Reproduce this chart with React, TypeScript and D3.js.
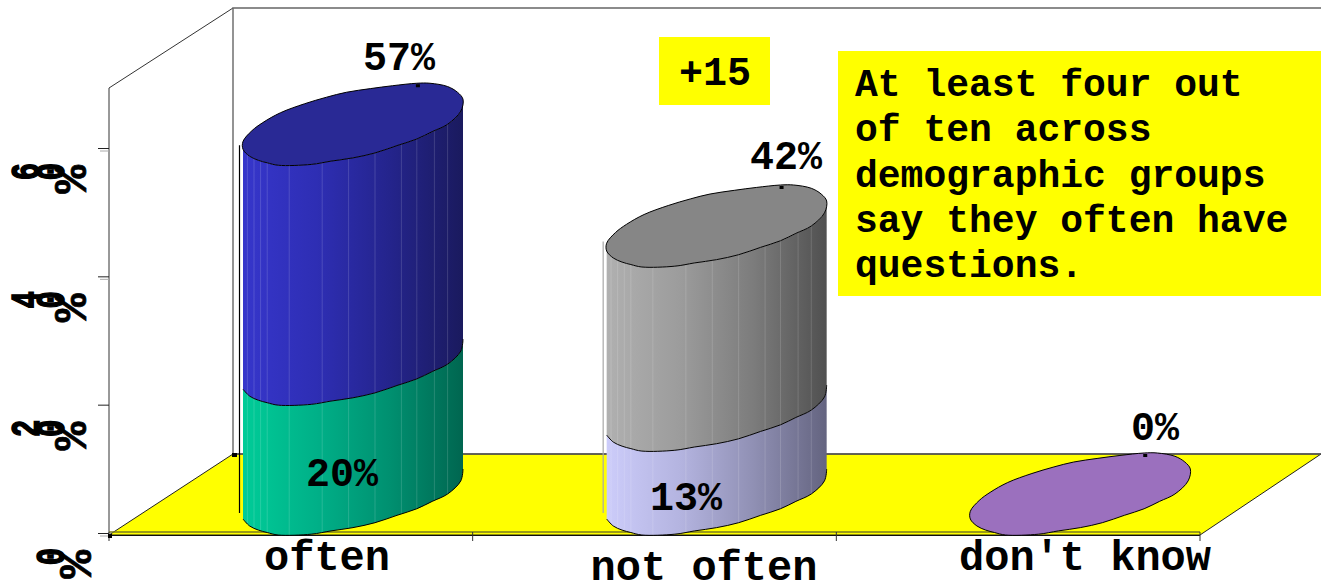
import React, { useEffect, useRef } from 'react';
import * as d3 from 'd3';

const categories = ['often', 'not often', "don't know"];
const upperValues = [57, 42, 0];
const lowerValues = [20, 13, 0];
const yTicks = [0, 20, 40, 60];
const calloutLines = [
  'At least four out',
  'of ten across',
  'demographic groups',
  'say they often have',
  'questions.',
];

// Outline of a column cap, as fractions of the cap width and height
const capBack: [number, number][] = [
  [0, -0.29], [0.04, -0.42], [0.09, -0.52], [0.17, -0.64], [0.28, -0.75],
  [0.38, -0.83], [0.47, -0.89], [0.58, -0.935], [0.68, -0.97], [0.79, -1],
  [0.85, -1], [0.93, -0.96], [0.975, -0.89], [1, -0.805],
];
const capFront: [number, number][] = [
  [1, -0.805], [0.99, -0.66], [0.93, -0.5], [0.86, -0.41], [0.79, -0.32],
  [0.7, -0.24], [0.6, -0.15], [0.5, -0.09], [0.4, -0.05], [0.31, -0.01],
  [0.16, 0], [0.11, -0.03], [0.07, -0.06], [0.03, -0.11], [0, -0.195],
];
// Light facet lines on the column sides
const facets = [0.02, 0.05, 0.08, 0.11, 0.21, 0.36, 0.48, 0.6, 0.72, 0.79, 0.87, 0.93];

const upperRamps = [
  ['#3636cb', '#2e2eb4', '#24248c', '#1a1a5e'],
  ['#b0b0b0', '#9c9c9c', '#7c7c7c', '#505050'],
];
const lowerRamps = [
  ['#00cc98', '#00b088', '#009070', '#006650'],
  ['#ccccfa', '#b4b4e0', '#9090b4', '#646480'],
];
const capColors = ['#292995', '#868686', '#9b70be'];
const dropColors = ['#000000', '#a8a8a8'];

const MONO = '"Liberation Mono", monospace';

const App: React.FC = () => {
  const chartRef = useRef<SVGSVGElement>(null);

  useEffect(() => {
    if (!chartRef.current) return;
    d3.select(chartRef.current).selectAll('*').remove();
    const svg = d3.select(chartRef.current);
    const defs = svg.append('defs');

    // Scales
    const x = d3.scaleBand().domain(categories).range([109, 1200]);
    const y = d3.scaleLinear().domain([0, 60]).range([533, 148]);
    const colWidth = 220;
    const capHeight = 82;
    const colLeft = (c: string) => (x(c) as number) + 134;
    // The 3D projection is not quite linear, small pixel corrections per value
    const nudge: Record<number, number> = { 57: -2, 42: 3.5, 20: 0.5, 13: 1.5, 0: 2 };

    // Back walls
    const wall = svg.append('g').attr('fill', 'none');
    wall.append('path').attr('d', 'M109,533V88L233,8').attr('stroke', '#333');
    wall.append('path').attr('d', 'M233,455V8H1321').attr('stroke', '#666').attr('stroke-width', 1.4);

    // Floor
    svg
      .append('path')
      .attr('d', 'M109,535L233,454H1321L1200,535Z')
      .attr('fill', '#ffff00')
      .attr('stroke', '#222')
      .attr('stroke-width', 1);
    svg.append('line').attr('x1', 233).attr('x2', 1321).attr('y1', 454).attr('y2', 454)
      .attr('stroke', '#555').attr('stroke-width', 1.5);
    svg.append('rect').attr('x', 232).attr('y', 453).attr('width', 5).attr('height', 4).attr('fill', '#000');

    // Y axis ticks, with their grey shadow just below
    const yAxis = svg
      .append('g')
      .attr('transform', 'translate(109,0)')
      .call(d3.axisLeft(y).tickValues(yTicks).tickSize(11).tickSizeOuter(0).tickFormat(() => ''));
    yAxis.select('.domain').remove();
    yAxis.selectAll('line').attr('stroke', '#222');
    svg
      .selectAll('.tick-shadow')
      .data(yTicks.filter((t) => t !== 20))
      .enter()
      .append('line')
      .attr('x1', 100)
      .attr('x2', 109)
      .attr('y1', (d) => y(d) + 3)
      .attr('y2', (d) => y(d) + 3)
      .attr('stroke', '#aaa');

    // Y labels: each glyph is turned on its own and they run into each other.
    // Digits come out squashed and heavy, the % sign stretched
    yTicks.forEach((t) => {
      const chars = `${t}%`.split('');
      chars.forEach((ch, i) => {
        const fromEnd = chars.length - 1 - i;
        const isPct = ch === '%';
        const cx = isPct ? (t === 0 ? 75 : 70) : 50 - (fromEnd - 1) * 25;
        svg
          .append('text')
          .text(ch)
          .attr('transform', `translate(${cx},${y(t) + (isPct ? 17 : 15)}) rotate(-90) scale(${isPct ? 1.2 : 0.72},${isPct ? 1.15 : 1})`)
          .attr('dy', '0.35em')
          .attr('text-anchor', 'end')
          .attr('stroke', '#000')
          .attr('stroke-width', isPct ? 0.6 : 1.6)
          .style('font-family', MONO)
          .style('font-weight', 700)
          .style('font-size', '40px');
      });
    });

    // Baseline of the front edge and category ticks
    svg.append('line').attr('x1', 109).attr('x2', 1200).attr('y1', 532).attr('y2', 532)
      .attr('stroke', '#7a7a20').attr('stroke-width', 1.5);
    svg.append('line').attr('x1', 109).attr('x2', 1200).attr('y1', 535.5).attr('y2', 535.5)
      .attr('stroke', '#111');
    svg
      .selectAll('.cat-tick')
      .data([109, ...categories.map((c) => (x(c) as number) + x.bandwidth())])
      .enter()
      .append('line')
      .attr('x1', (d) => d)
      .attr('x2', (d) => d)
      .attr('y1', 532)
      .attr('y2', 541)
      .attr('stroke', '#333');
    svg.append('rect').attr('x', 108).attr('y', 534).attr('width', 4).attr('height', 4).attr('fill', '#000');

    const contour = (c: string, value: number, pts: [number, number][]) =>
      pts.map(([u, v]) => [
        colLeft(c) + u * colWidth,
        y(value) + (nudge[value] ?? 0) + v * capHeight,
      ] as [number, number]);
    const line = d3.line().curve(d3.curveCatmullRom);
    const closedLine = d3.line().curve(d3.curveCatmullRomClosed);

    // One piece of column side between two values
    const drawSide = (c: string, lo: number, hi: number, ramp: string[], id: string) => {
      const gradient = defs.append('linearGradient').attr('id', `grad-${id}`);
      ramp.forEach((color, i) => {
        gradient
          .append('stop')
          .attr('offset', i / (ramp.length - 1))
          .attr('stop-color', color);
      });
      const topEdge = line(contour(c, hi, capFront).reverse()) as string;
      const bottomEdge = line(contour(c, lo, capFront)) as string;
      const d = `${topEdge}L${bottomEdge.slice(1)}Z`;
      defs.append('clipPath').attr('id', `clip-${id}`).append('path').attr('d', d);
      svg.append('path').attr('d', d).attr('fill', `url(#grad-${id})`);
      svg
        .append('g')
        .attr('clip-path', `url(#clip-${id})`)
        .selectAll('line')
        .data(facets)
        .enter()
        .append('line')
        .attr('x1', (f) => colLeft(c) + f * colWidth)
        .attr('x2', (f) => colLeft(c) + f * colWidth)
        .attr('y1', y(hi) - capHeight)
        .attr('y2', y(lo) + 4)
        .attr('stroke', '#ffffff')
        .attr('stroke-opacity', 0.15);
      svg
        .append('path')
        .attr('d', bottomEdge)
        .attr('fill', 'none')
        .attr('stroke', '#000')
        .attr('stroke-width', 1);
    };

    categories.forEach((c, i) => {
      const hi = upperValues[i];
      const lo = lowerValues[i];
      if (hi > 0) {
        drawSide(c, 0, lo, lowerRamps[i], `low-${i}`);
        drawSide(c, lo, hi, upperRamps[i], `up-${i}`);
        svg
          .append('line')
          .attr('x1', colLeft(c) - 3.5)
          .attr('x2', colLeft(c) - 3.5)
          .attr('y1', y(hi) - 22)
          .attr('y2', y(0) - 20)
          .attr('stroke', dropColors[i])
          .attr('stroke-width', 1.2);
      }
      const cap = [...contour(c, hi, capBack), ...contour(c, hi, capFront).slice(1)];
      svg
        .append('path')
        .attr('d', closedLine(cap))
        .attr('fill', capColors[i])
        .attr('stroke', '#000')
        .attr('stroke-width', 1);
      svg
        .append('rect')
        .attr('x', colLeft(c) + 0.795 * colWidth - 2)
        .attr('y', y(hi) + (nudge[hi] ?? 0) - capHeight + 1)
        .attr('width', 4)
        .attr('height', 3)
        .attr('fill', '#000');
    });

    // Value labels
    const valueText = (t: string, cx: number, by: number) =>
      svg
        .append('text')
        .text(t)
        .attr('x', cx)
        .attr('y', by)
        .attr('text-anchor', 'middle')
        .style('font-family', MONO)
        .style('font-weight', 700)
        .style('font-size', '40px');
    const upperLabelAt = [[399, 70], [786, 169], [1155, 440]];
    const lowerLabelAt = [[342, 486], [686, 510]];
    upperValues.forEach((v, i) => valueText(`${v}%`, upperLabelAt[i][0], upperLabelAt[i][1]));
    lowerValues.slice(0, 2).forEach((v, i) => valueText(`${v}%`, lowerLabelAt[i][0], lowerLabelAt[i][1]));

    // Category labels
    const categoryLabelAt = [[327, 570], [704, 580], [1085, 570]];
    categories.forEach((c, i) => {
      svg
        .append('text')
        .text(c)
        .attr('x', categoryLabelAt[i][0])
        .attr('y', categoryLabelAt[i][1])
        .attr('text-anchor', 'middle')
        .style('font-family', MONO)
        .style('font-weight', 700)
        .style('font-size', '42px');
    });

    // Yellow boxes
    svg.append('rect').attr('x', 659).attr('y', 37).attr('width', 111).attr('height', 68).attr('fill', '#ffff00');
    valueText('+15', 715, 85);
    svg.append('rect').attr('x', 838).attr('y', 51).attr('width', 483).attr('height', 245).attr('fill', '#ffff00');
    calloutLines.forEach((t, i) => {
      svg
        .append('text')
        .text(t)
        .attr('x', 855)
        .attr('y', 96 + i * 45.3)
        .style('font-family', MONO)
        .style('font-weight', 700)
        .style('font-size', '38px');
    });
  }, []);

  return (
    <svg
      ref={chartRef}
      width={1321}
      height={584}
      style={{ position: 'absolute', left: 0, top: 0, display: 'block', background: '#fff' }}
    />
  );
};

export default App;
